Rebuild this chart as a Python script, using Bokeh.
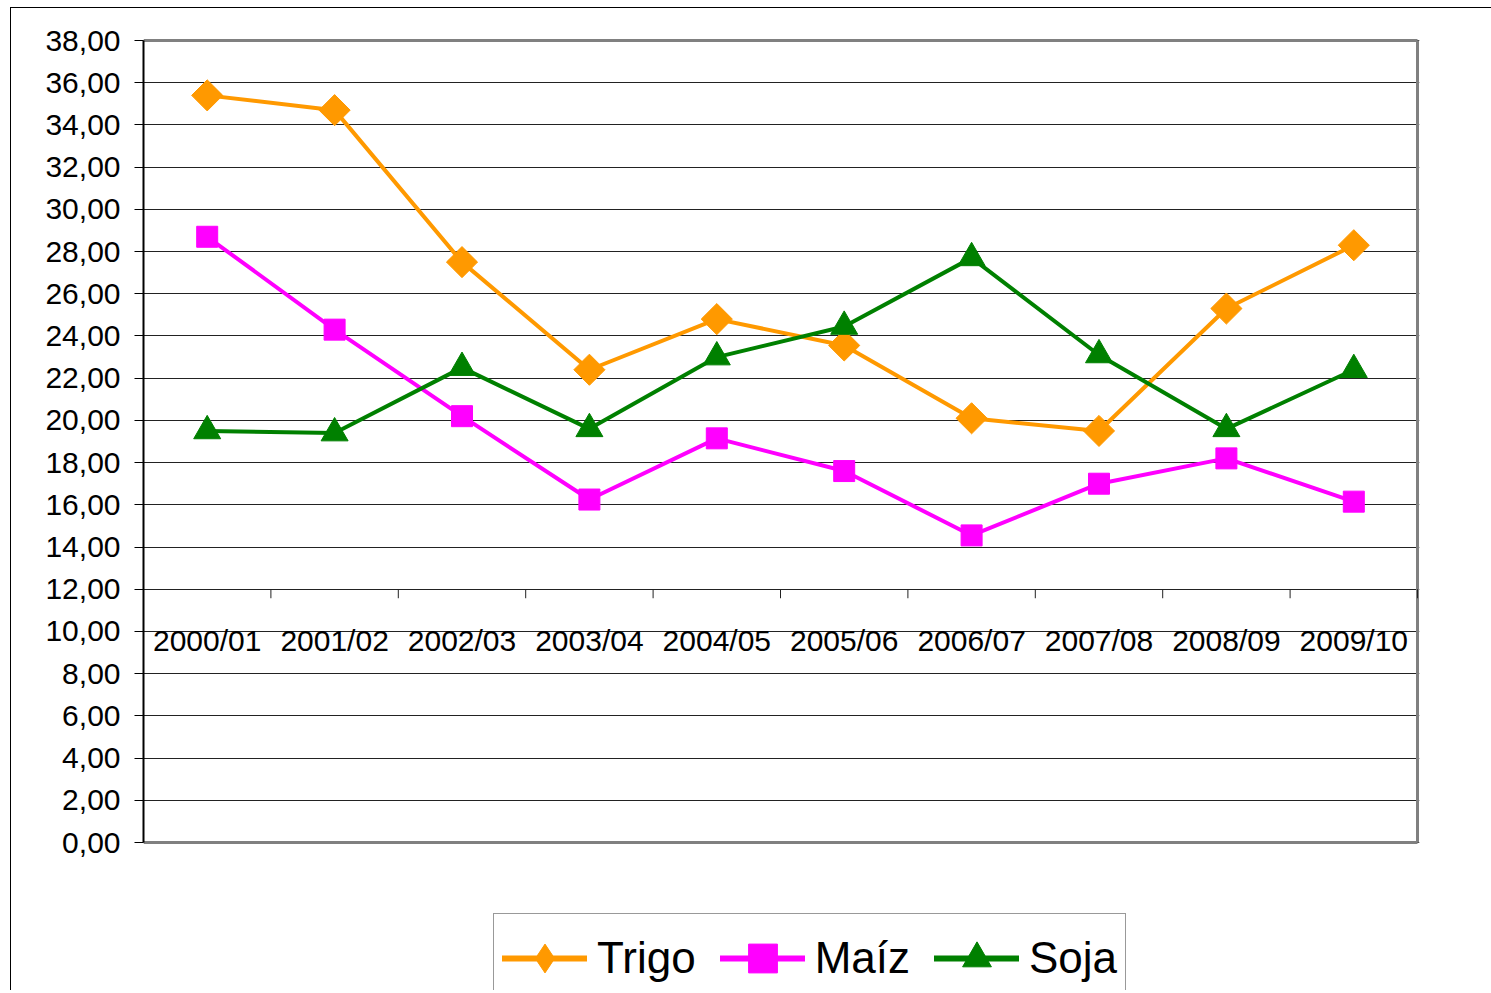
import math
from bokeh.plotting import figure
from bokeh.models import Range1d, FixedTicker, Legend, LegendItem, ColumnDataSource
from bokeh.core.properties import value
from bokeh.embed import file_html
from bokeh.resources import INLINE

campanas = ["2000/01", "2001/02", "2002/03", "2003/04", "2004/05",
            "2005/06", "2006/07", "2007/08", "2008/09", "2009/10"]
trigo = [35.4, 34.7, 27.5, 22.4, 24.8, 23.55, 20.1, 19.5, 25.3, 28.3]
maiz = [28.7, 24.3, 20.2, 16.25, 19.15, 17.6, 14.55, 17.0, 18.2, 16.15]
soja = [19.5, 19.4, 22.5, 19.6, 23.0, 24.45, 27.7, 23.1, 19.6, 22.4]
y_ticks = [float(v) for v in range(0, 40, 2)]
x_axis_cross = 12.0

FONT = "Liberation Sans"
Y_MIN, Y_MAX = 0.0, 38.0
n = len(campanas)

# plot area geometry (pixels)
AREA_W, AREA_H = 1274, 802
ppu = AREA_H / (Y_MAX - Y_MIN)          # px per y unit
ppx = AREA_W / n                         # px per category
PAD_TOP, PAD_RIGHT, BELOW = 2, 2, 148    # extra frame room around the plot area

p = figure(frame_width=AREA_W + PAD_RIGHT, frame_height=AREA_H + PAD_TOP + BELOW,
           min_border_left=132, min_border_top=30, min_border_right=72, min_border_bottom=0,
           x_range=Range1d(0, n + PAD_RIGHT / ppx),
           y_range=Range1d(Y_MIN - BELOW / ppu, Y_MAX + PAD_TOP / ppu),
           output_backend="svg", toolbar_location=None, x_axis_location=None,
           background_fill_color="white", border_fill_color="white")
p.styles = {"margin-left": "10px", "margin-top": "7px",
            "border-left": "1px solid #000", "border-top": "1px solid #000"}
p.outline_line_color = None

# y axis
ya = p.yaxis[0]
ya.bounds = (Y_MIN, Y_MAX)
ya.ticker = FixedTicker(ticks=y_ticks)
ya.major_label_overrides = {v: f"{v:.2f}".replace(".", ",") for v in y_ticks}
ya.major_label_text_font = FONT
ya.major_label_text_font_size = "30px"
ya.major_label_text_color = "black"
ya.major_label_standoff = 14
ya.axis_line_color = "black"
ya.axis_line_width = 2
ya.major_tick_line_color = "black"
ya.major_tick_out = 9
ya.major_tick_in = 0
ya.minor_tick_line_color = None

p.xgrid.visible = False
p.ygrid.ticker = FixedTicker(ticks=y_ticks)
p.ygrid.grid_line_color = "#222222"
p.ygrid.grid_line_width = 1

# plot-area border (gray): top, right, bottom
p.segment(x0=[0, n, 0], x1=[n, n, n], y0=[Y_MAX, Y_MIN, Y_MIN], y1=[Y_MAX, Y_MAX, Y_MIN],
          line_color="#808080", line_width=3)

# category axis crossing at 12
xc = [i + 0.5 for i in range(n)]
tick_len = 9 / ppu
bounds = [float(i) for i in range(1, n + 1)]
p.segment(x0=bounds, x1=bounds, y0=[x_axis_cross] * n, y1=[x_axis_cross - tick_len] * n,
          line_color="#222222", line_width=1)
p.text(x=xc, y=[x_axis_cross] * n, text=campanas, text_font=value(FONT),
       text_font_size="30px", text_align="center", text_baseline="middle",
       y_offset=51, text_color="black")

# name, values, colour, plot marker, plot size, angle, legend marker
series = [
    ("Trigo", trigo, "#FF9900", "square", 22, math.pi / 4, "diamond"),
    ("Maíz", maiz, "#FF00FF", "square", 21, 0.0, "square"),
    ("Soja", soja, "#008000", "triangle", 27, 0.0, "triangle"),
]
nan = float("nan")
items = []
for name, vals, color, marker, size, ang, lmarker in series:
    src = ColumnDataSource(dict(x=xc, y=vals))
    p.line("x", "y", source=src, line_color=color, line_width=4)
    p.scatter("x", "y", source=src, marker=marker, size=size, angle=ang,
              fill_color=color, line_color=color)
    # legend-only sample glyphs (a single missing point, never drawn in the plot)
    proxy = ColumnDataSource(dict(x=[nan], y=[nan]))
    lr1 = p.line("x", "y", source=proxy, line_color=color, line_width=6, line_cap="round")
    lr2 = p.scatter("x", "y", source=proxy, marker=lmarker, size=30,
                    fill_color=color, line_color=color)
    items.append(LegendItem(label=name, renderers=[lr1, lr2]))

legend = Legend(items=items, orientation="horizontal", location=(350, -13),
                label_text_font=FONT, label_text_font_size="44px", label_text_color="black",
                glyph_width=85, glyph_height=72, label_height=56, label_standoff=10, spacing=24,
                padding=8, margin=0, border_line_color="#333333", border_line_width=1,
                background_fill_color="white", background_fill_alpha=1.0)
p.add_layout(legend, "center")

open("out.html", "w").write(file_html(p, INLINE))
